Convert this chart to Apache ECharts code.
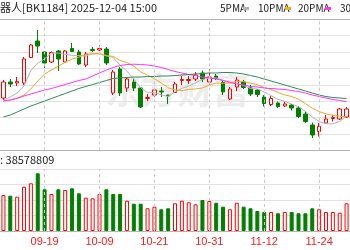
<!DOCTYPE html>
<html><head><meta charset="utf-8">
<script src="https://cdn.jsdelivr.net/npm/echarts@6/dist/echarts.min.js"></script>
<style>html,body{margin:0;padding:0;background:#fff}#c{width:350px;height:250px}</style>
</head><body><div id="c"></div>
<script>
const dates = ['09-11','09-12','09-15','09-16','09-17','09-18','09-19','09-22','09-23','09-24','09-25','09-26','09-29','09-30','10-09','10-10','10-13','10-14','10-15','10-16','10-17','10-20','10-21','10-22','10-23','10-24','10-27','10-28','10-29','10-30','10-31','11-03','11-04','11-05','11-06','11-07','11-10','11-11','11-12','11-13','11-14','11-17','11-18','11-19','11-20','11-21','11-24','11-25','11-26','11-27','11-28'];
const tickLabels = ['09-19','10-09','10-21','10-31','11-12','11-24'];
const openP = [1246.5,1326.5,1321.5,1321.5,1449,1531.5,1476.5,1426.5,1481.5,1426.5,1494,1476.5,1411.5,1489,1486.5,1491.5,1271.5,1391.5,1296.5,1326.5,1296.5,1244,1261.5,1281.5,1261.5,1274,1334,1334,1341.5,1371.5,1326.5,1356.5,1324,1241.5,1301.5,1326.5,1296.5,1286.5,1251.5,1214,1221.5,1206.5,1211.5,1196.5,1166.5,1111.5,1079,1121.5,1144,1141.5,1151.5];
const closeP = [1326.5,1316.5,1329,1441.5,1511.5,1506.5,1421.5,1474,1441.5,1481.5,1479,1416.5,1466.5,1484,1494,1421.5,1376.5,1271.5,1341.5,1296.5,1201.5,1249,1286.5,1276.5,1256.5,1316.5,1339,1339,1361.5,1341.5,1351.5,1344,1276.5,1291.5,1336.5,1299,1266.5,1264,1219,1244,1204,1216.5,1196.5,1154,1129,1061.5,1104,1141.5,1149,1191.5,1191.5];
const lowP = [1236.5,1301.5,1306.5,1311.5,1446.5,1471.5,1396.5,1421.5,1381.5,1421.5,1476.5,1411.5,1401.5,1476.5,1481.5,1411.5,1261.5,1256.5,1276.5,1281.5,1196.5,1231.5,1251.5,1251.5,1216.5,1271.5,1311.5,1316.5,1331.5,1326.5,1311.5,1336.5,1261.5,1236.5,1281.5,1291.5,1256.5,1251.5,1204,1206.5,1196.5,1201.5,1184,1146.5,1121.5,1046.5,1054,1116.5,1129,1136.5,1146.5];
const highP = [1336.5,1341.5,1351.5,1451.5,1516.5,1586.5,1481.5,1479,1486.5,1486.5,1521.5,1486.5,1476.5,1501.5,1511.5,1501.5,1386.5,1401.5,1346.5,1341.5,1301.5,1266.5,1296.5,1301.5,1261.5,1326.5,1356.5,1356.5,1376.5,1384,1391.5,1366.5,1331.5,1301.5,1351.5,1336.5,1311.5,1291.5,1261.5,1256.5,1229,1229,1216.5,1206.5,1179,1124,1121.5,1161.5,1161.5,1196.5,1201.5];
const volume = [58.3,57.2,55.6,71.8,77.3,93.5,67.6,60.0,67.6,66.4,69.2,61.1,54.0,53.0,60.0,67.6,60.0,60.0,49.1,44.2,44.2,36.8,39.4,35.2,36.8,44.9,49.1,46.5,43.3,50.2,48.6,45.8,39.4,35.2,45.8,39.4,36.8,32.4,30.8,30.8,28.7,30.8,30.8,28.7,28.7,36.8,35.2,30.8,30.8,29.6,44.9];
const ma5 = [1236.5,1251.5,1271.5,1306.5,1385,1421,1442,1471,1471,1465,1460,1459,1457.5,1466,1468.5,1457,1449,1410,1381,1341.5,1297.5,1272,1275,1262,1254,1277,1295,1305.5,1322.5,1339.5,1346.5,1347.5,1335,1321,1320,1309.5,1294,1291.5,1277,1258.5,1239.5,1229.5,1216,1203,1180,1151.5,1129,1118,1117,1129.5,1155.5];
const ma10 = [1231.5,1236.5,1246.5,1261.5,1291.5,1331.5,1366.5,1386.5,1406.5,1425,1441,1451,1464.5,1469,1467.5,1459,1454.5,1434,1424,1405.5,1377,1360.5,1342.5,1321.5,1298,1287,1283.5,1290,1292,1296.5,1311.5,1321,1320,1321.5,1329.5,1328,1320.5,1313,1299,1289,1274.5,1262,1254,1240,1219,1195.5,1179,1167,1160,1155,1153.5];
const ma20 = [1231.5,1236.5,1244,1256.5,1266.5,1276.5,1286.5,1294,1304,1314,1324,1334,1341.5,1356.5,1371.5,1386.5,1399,1409,1414,1415.5,1414,1411.5,1406.5,1399,1389,1379,1371.5,1364,1359,1351.5,1346.5,1341.5,1334,1326.5,1316.5,1311.5,1304,1301.5,1296.5,1294,1291.5,1289,1284,1279,1271.5,1261.5,1254,1246.5,1239,1234,1229];
const ma30 = [1151.5,1161.5,1176.5,1191.5,1206.5,1219,1231.5,1244,1256.5,1269,1281.5,1294,1304,1314,1324,1334,1344,1346.5,1349,1351.5,1351.5,1354,1354,1356.5,1356.5,1359,1361.5,1364,1366.5,1369,1371.5,1371.5,1374,1374,1371.5,1366.5,1359,1351.5,1341.5,1331.5,1321.5,1311.5,1301.5,1291.5,1281.5,1271.5,1261.5,1254,1249,1246.5,1244];
const titleText = '机器人[BK1184] 2025-12-04 15:00';
const volText = '成交量: 38578809';
const legendNames = ['5PMA','10PMA','20PMA','30PMA'];
const watermark = '东方财富';

const UP = '#ff0000', DOWN = '#008000';
const maColors = ['#b4b4b4', '#f5a623', '#ff33ff', '#2e8b57'];
const FONT = '"Noto Sans CJK SC", sans-serif';

const chart = echarts.init(document.getElementById('c'));
const kData = dates.map((d, i) => [openP[i], closeP[i], lowP[i], highP[i]]);
const volData = volume.map((v, i) => {
  const up = i === 0 || closeP[i] >= closeP[i - 1];
  return { value: v, itemStyle: up ? { color: '#fff', borderColor: UP, borderWidth: 1 } : { color: DOWN, borderColor: DOWN, borderWidth: 1 } };
});
const labelSet = new Set(tickLabels);
const mk = () => ({
  silent: true, symbol: ['none', 'none'], label: { show: false }, animation: false,
  lineStyle: { type: [3, 3], color: '#c8c8c8', width: 1 },
  data: tickLabels.map(t => ({ xAxis: t }))
});
const legendX = [220, 258, 298, 340];
const markerX = [243, 285, 325, 366];
const graphics = [
  { type: 'text', x: -11, y: 8, style: { text: titleText, font: '11px ' + FONT, fill: '#222', verticalAlign: 'middle' } },
  { type: 'text', x: -33, y: 160, style: { text: volText, font: '11px ' + FONT, fill: '#222', verticalAlign: 'middle' } },
  { type: 'text', x: 177, y: 90, z: -10, silent: true, style: { text: watermark, font: 'bold 36px ' + FONT, fill: 'rgba(0,0,0,0.07)', align: 'center', verticalAlign: 'middle' } }
];
legendNames.forEach((n, i) => {
  graphics.push({ type: 'text', x: legendX[i], y: 8, style: { text: n, font: '10px ' + FONT, fill: '#222', verticalAlign: 'middle' } });
  graphics.push({ type: 'rect', shape: { x: markerX[i], y: 7, width: 6, height: 3 }, style: { fill: maColors[i] } });
});
const hiddenAxis = { axisLine: { show: false }, axisTick: { show: false } };
chart.setOption({
  animation: false,
  backgroundColor: '#fff',
  grid: [
    { left: -1.34, top: 19.3, width: 355.7, height: 131.2 },
    { left: -1.34, top: 169.3, width: 355.7, height: 61.7 }
  ],
  xAxis: [
    Object.assign({ type: 'category', gridIndex: 0, data: dates, boundaryGap: true, axisLabel: { show: false }, splitLine: { show: false } }, hiddenAxis),
    Object.assign({ type: 'category', gridIndex: 1, data: dates, boundaryGap: true, splitLine: { show: false },
      axisLabel: { interval: (i, v) => labelSet.has(v), color: '#ff1a1a', fontSize: 11, margin: 5, fontFamily: 'Liberation Sans' } }, hiddenAxis)
  ],
  yAxis: [
    Object.assign({ type: 'value', gridIndex: 0, min: 984, max: 1640, interval: 82, axisLabel: { show: false },
      splitLine: { lineStyle: { color: ['#b4b4b4', '#e2e2e2', '#e2e2e2', '#e2e2e2', '#e2e2e2', '#e2e2e2', '#e2e2e2', '#e2e2e2', '#b4b4b4'], width: 1 } } }, hiddenAxis),
    Object.assign({ type: 'value', gridIndex: 1, min: 0, max: 100, interval: 25, axisLabel: { show: false },
      splitLine: { lineStyle: { color: ['#b4b4b4', '#e2e2e2', '#e2e2e2', '#e2e2e2', '#e2e2e2'], width: 1 } } }, hiddenAxis)
  ],
  graphic: graphics,
  series: [
    { type: 'candlestick', xAxisIndex: 0, yAxisIndex: 0, data: kData, barWidth: 4, clip: false,
      itemStyle: { color: '#fff', color0: DOWN, borderColor: UP, borderColor0: DOWN, borderWidth: 1 }, markLine: mk() },
    { type: 'bar', xAxisIndex: 1, yAxisIndex: 1, data: volData, barWidth: 4, markLine: mk() },
    ...[ma5, ma10, ma20, ma30].map((d, i) => ({
      type: 'line', xAxisIndex: 0, yAxisIndex: 0, data: d, symbol: 'none', showSymbol: false, z: 3,
      lineStyle: { width: 1, color: maColors[i] }, itemStyle: { color: maColors[i] }
    }))
  ]
});
</script></body></html>
